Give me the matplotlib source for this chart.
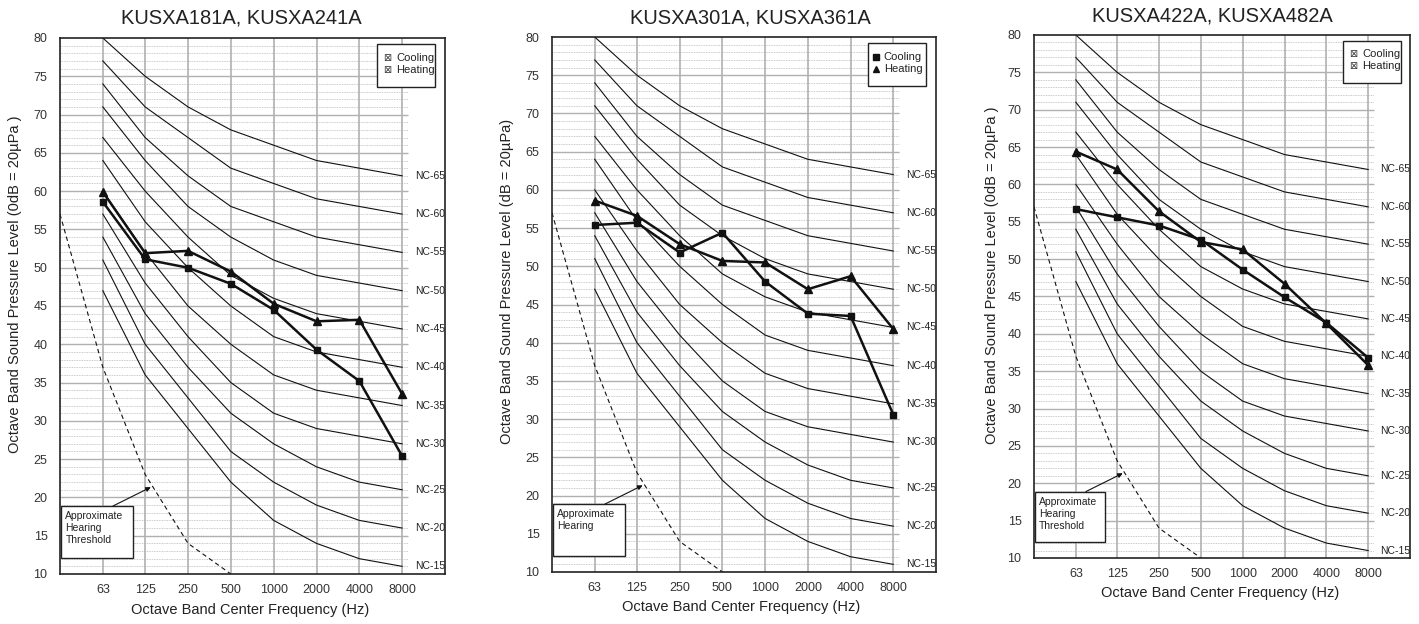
import numpy as np
import matplotlib.pyplot as plt
from matplotlib.patches import Rectangle

plt.rcParams['font.family'] = ['Liberation Sans', 'DejaVu Sans']

freqs = [63, 125, 250, 500, 1000, 2000, 4000, 8000]
freq_labels = ["63", "125", "250", "500", "1000", "2000", "4000", "8000"]

nc_names = ["NC-15", "NC-20", "NC-25", "NC-30", "NC-35", "NC-40",
            "NC-45", "NC-50", "NC-55", "NC-60", "NC-65"]
nc_values = [
    [47, 36, 29, 22, 17, 14, 12, 11],
    [51, 40, 33, 26, 22, 19, 17, 16],
    [54, 44, 37, 31, 27, 24, 22, 21],
    [57, 48, 41, 35, 31, 29, 28, 27],
    [60, 52, 45, 40, 36, 34, 33, 32],
    [64, 56, 50, 45, 41, 39, 38, 37],
    [67, 60, 54, 49, 46, 44, 43, 42],
    [71, 64, 58, 54, 51, 49, 48, 47],
    [74, 67, 62, 58, 56, 54, 53, 52],
    [77, 71, 67, 63, 61, 59, 58, 57],
    [80, 75, 71, 68, 66, 64, 63, 62],
]

# approximate hearing threshold
thr_freqs = [31.5, 63, 125, 250, 500]
thr_values = [57, 37, 23, 14, 10]

titles = ["KUSXA181A, KUSXA241A", "KUSXA301A, KUSXA361A", "KUSXA422A, KUSXA482A"]
ylabels = ["Octave Band Sound Pressure Level (0dB = 20µPa )",
           "Octave Band Sound Pressure Level (dB = 20µPa)",
           "Octave Band Sound Pressure Level (0dB = 20µPa )"]
xlabel = "Octave Band Center Frequency (Hz)"
hearing_texts = ["Approximate\nHearing\nThreshold", "Approximate\nHearing",
                 "Approximate\nHearing\nThreshold"]

cooling_1 = [58.6, 51.1, 50.0, 47.9, 44.5, 39.3, 35.2, 25.4]
heating_1 = [59.9, 51.9, 52.2, 49.5, 45.3, 43.0, 43.2, 33.5]
cooling_2 = [55.4, 55.7, 51.8, 54.4, 48.0, 43.8, 43.5, 30.6]
heating_2 = [58.6, 56.6, 52.9, 50.7, 50.5, 47.0, 48.7, 41.8]
cooling_3 = [56.7, 55.6, 54.5, 52.6, 48.6, 44.9, 41.5, 36.8]
heating_3 = [64.4, 62.0, 56.4, 52.3, 51.3, 46.7, 41.4, 35.8]

W, H = 1419, 624
fig = plt.figure(figsize=(W / 100, H / 100), dpi=100)

# pixel boxes: left, right, top, bottom
boxes = [(60, 445, 38, 574), (552, 936, 37, 572), (1034, 1410, 35, 558)]
title_pos = [(241, 18), (750, 18), (1212, 16)]
ylab_pos = [(15, 284), (507, 281), (992, 275)]
xlab_pos = [(250, 610), (741, 607), (1220, 593)]
series = [(cooling_1, heating_1), (cooling_2, heating_2), (cooling_3, heating_3)]
legend_glyph = [True, False, True]

for i in range(3):
    l, r, t, b = boxes[i]
    ax = fig.add_axes([l / W, (H - b) / H, (r - l) / W, (b - t) / H])
    ax.set_xscale('log', base=2)
    ax.set_xlim(31.5, 16000)
    ax.set_ylim(10, 80)
    ax.xaxis.set_minor_locator(plt.NullLocator())
    ax.set_xticks(freqs)
    ax.set_xticklabels(freq_labels)
    ax.set_yticks(np.arange(10, 81, 5))
    ax.tick_params(length=0, labelsize=9, colors='#333333')
    ax.tick_params(axis='x', pad=7)
    ax.tick_params(axis='y', pad=9)
    for s in ax.spines.values():
        s.set_color('#222222')
        s.set_linewidth(1.2)

    # grid
    ax.hlines(np.arange(11, 80, 1), 31.5, 8800, colors='#b8b8b8', linewidth=0.6,
              linestyles=(0, (1, 1)), zorder=1)
    ax.hlines(np.arange(15, 80, 5), 31.5, 8800, colors='#b0b0b0', linewidth=1.0, zorder=1)
    ax.vlines(freqs, 10, 80, colors='#b0b0b0', linewidth=1.2, zorder=1)

    # NC curves
    for name, vals in zip(nc_names, nc_values):
        ax.plot(freqs, vals, color='#111111', linewidth=0.8, zorder=2)
        ax.text(9800, vals[-1], name, fontsize=7.5, va='center', ha='left',
                color='#222222', zorder=3)

    ax.plot(thr_freqs, thr_values, color='#111111', linewidth=0.8,
            linestyle=(0, (4, 3)), zorder=2)

    cool, heat = series[i]
    ax.plot(freqs, cool, color='#111111', linewidth=1.8, marker='s',
            markersize=5, zorder=4)
    ax.plot(freqs, heat, color='#111111', linewidth=1.8, marker='^',
            markersize=6, zorder=4)

    # legend box
    ax.add_patch(Rectangle((0.823, 0.908), 0.152, 0.081, transform=ax.transAxes,
                           facecolor='white', edgecolor='#222222', linewidth=1.0, zorder=5))
    if legend_glyph[i]:
        for yy in (0.963, 0.94):
            ax.text(0.838, yy, "⊠", transform=ax.transAxes, fontsize=7, va='center',
                    ha='left', family='DejaVu Sans', color='#333333', zorder=6)
        tx = 0.873
    else:
        ax.plot([0.843], [0.962], transform=ax.transAxes, marker='s', markersize=4,
                color='#111111', clip_on=False, zorder=6)
        ax.plot([0.843], [0.94], transform=ax.transAxes, marker='^', markersize=5,
                color='#111111', clip_on=False, zorder=6)
        tx = 0.864
    ax.text(tx, 0.963, "Cooling", transform=ax.transAxes, fontsize=8, va='center',
            ha='left', color='#222222', zorder=6)
    ax.text(tx, 0.94, "Heating", transform=ax.transAxes, fontsize=8, va='center',
            ha='left', color='#222222', zorder=6)

    # hearing threshold box
    ax.add_patch(Rectangle((0.003, 0.03), 0.187, 0.097, transform=ax.transAxes,
                           facecolor='white', edgecolor='#222222', linewidth=1.0, zorder=5))
    ax.text(0.014, 0.117, hearing_texts[i], transform=ax.transAxes, fontsize=7.5,
            va='top', ha='left', color='#222222', linespacing=1.25, zorder=6)
    ax.annotate("", xy=(0.236, 0.162), xytext=(0.138, 0.127),
                xycoords='axes fraction', textcoords='axes fraction',
                arrowprops=dict(arrowstyle='-|>', color='#111111', lw=0.8,
                                mutation_scale=7, shrinkA=0, shrinkB=0), zorder=6)

    fig.text(title_pos[i][0] / W, 1 - title_pos[i][1] / H, titles[i], fontsize=14.5,
             ha='center', va='center', color='#222222')
    fig.text(ylab_pos[i][0] / W, 1 - ylab_pos[i][1] / H, ylabels[i], fontsize=10.5,
             rotation=90, ha='center', va='center', color='#222222')
    fig.text(xlab_pos[i][0] / W, 1 - xlab_pos[i][1] / H, xlabel, fontsize=10.5,
             ha='center', va='center', color='#222222')

fig.savefig("out.png", dpi=100)
